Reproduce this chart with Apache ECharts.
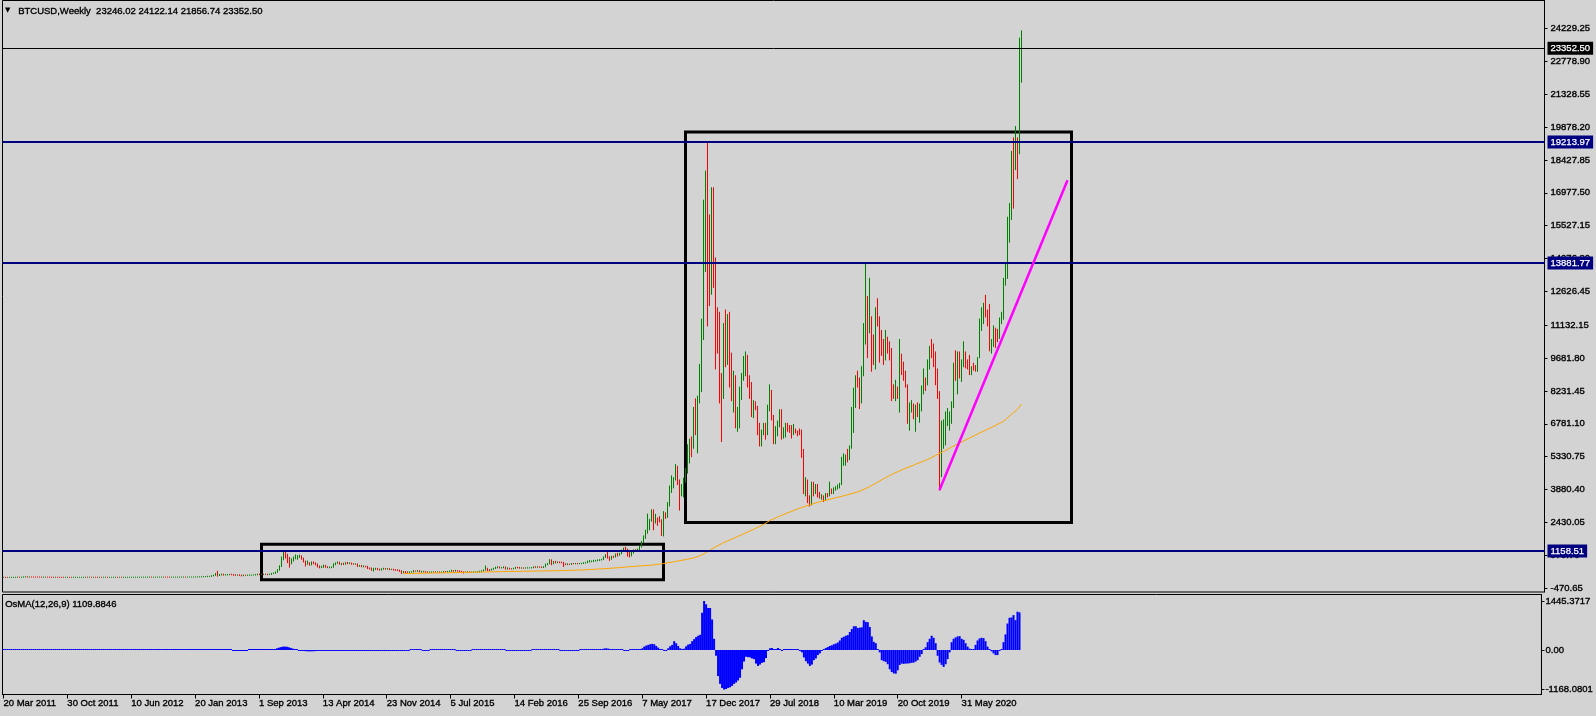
<!DOCTYPE html>
<html><head><meta charset="utf-8">
<script src="https://cdn.jsdelivr.net/npm/echarts@6/dist/echarts.min.js"></script>
<style>html,body{margin:0;padding:0;background:#d3d3d3;}#c{width:1596px;height:716px;}</style>
</head><body><div id="c"></div>
<script>
// ---------- DATA (weekly BTCUSD bars, index 0 = week of 20 Mar 2011) ----------
const opens = [
0.8,0.9,0.8,0.7,1.0,1.6,3.0,3.4,6.9,6.6,8.4,18.5,23,15,17,15.4,14.4,14,13.7,13.5,9.8,10.5,11,8.8,8.2,6.6,5.2,5.3,5.0,4.3,4.0,3.2,3.2,3.3,3.0,2.2,2.5,2.9,3.0,3.2,3.9,
4.7,6.8,6.3,6.3,5.6,5.9,5.6,4.4,4.9,4.8,4.9,5.3,4.7,4.9,4.9,4.9,5.1,5.0,5.1,5.0,5.1,5.1,5.3,5.5,5.9,6.5,6.7,6.7,7.2,8.6,8.9,10.9,11.4,12.0,10.1,10.2,11.0,11.8,12.3,12.3,12.5,11.9,11.8,10.8,10.8,10.9,11.2,12.3,12.6,13.4,13.5,13.4,13.5,
13.5,14.1,15.7,17.5,20.4,23.6,27.5,29.9,34.5,46.9,47,70,93,162,90,118,137,112,115,122,129,122,100,99,107,90,76,98,92,94,104,104,108,122,139,125,135,131,134,130,139,173,185,230,330,500,800,1000,880,850,620,740,
860,870,900,920,820,700,600,610,560,640,620,565,480,450,455,500,460,440,445,450,570,625,650,590,595,590,635,620,625,595,590,592,500,510,480,485,475,400,390,330,375,385,355,325,365,385,370,375,350,355,330,317,
315,270,210,250,225,220,235,240,275,272,285,245,250,255,236,222,230,235,240,235,240,225,232,250,245,258,270,292,275,290,282,265,231,228,229,240,231,233,238,240,247,268,285,325,380,330,325,360,395,435,440,425,
430,450,382,390,375,372,400,437,430,410,414,412,416,420,421,430,458,448,460,455,440,470,570,600,750,640,680,650,665,655,652,590,570,580,576,608,606,610,605,610,615,640,655,700,705,712,730,735,765,770,790,890,
1000,900,820,920,915,1020,1000,1050,1180,1270,1230,1020,970,1080,1200,1190,1240,1350,1560,1780,2050,2200,2520,2950,2500,2580,2500,2480,1920,2750,2740,3200,4000,4100,4330,4600,4200,3700,3780,4350,4750,5600,6000,5750,7400,6350,7800,9300,11400,15000,17800,13800,
12700,16500,13800,11500,11100,8200,8100,11000,9600,11500,9500,8200,8500,6850,6900,8300,8900,9300,9650,8600,8100,7350,7700,7500,6450,6150,6380,6750,6350,7400,8200,7000,6300,6400,6700,7300,6200,6500,6700,6620,6550,6300,6500,6450,6400,6350,5600,4000,4100,3550,3250,3900,3800,
4000,3600,3530,3560,3450,3650,3600,3850,3800,3920,3980,4000,4100,5050,5150,5300,5200,5750,7250,8100,8700,8600,8000,8900,10800,11900,11200,11400,10600,9500,11800,11400,10300,10100,9700,10400,10300,10000,8200,8100,8300,8200,9250,9200,8800,8500,7300,7400,7500,7100,7500,7300,
7400,8200,8700,8600,9400,10100,9900,9650,8600,8000,5400,5800,5900,6880,6910,7100,7550,8900,8700,9700,9200,9450,9650,9350,9300,9000,9250,9230,9180,9700,11100,11700,11900,11650,11500,10250,10300,10900,10700,10600,11300,11500,13000,13750,15500,16000,18700,18200,19150,18800,23246.02
];
const highs = [
1.0,0.9,0.8,1.1,1.8,3.5,4.0,8.0,8.5,9.0,19,31,24,18,17,16,15,14.5,14,13.6,11,12,11.2,9,8.5,7,5.8,5.5,5.1,4.4,4.1,3.6,3.7,3.5,3.1,2.8,3.1,3.2,3.4,4.2,4.9,
7.2,7.1,6.9,6.5,6.2,6.1,5.8,5.1,5.1,5.0,5.4,5.4,5.0,5.1,5.1,5.2,5.3,5.2,5.2,5.2,5.2,5.4,5.6,6.0,6.6,6.9,6.8,7.5,8.9,9.2,11.0,11.9,12.3,12.5,10.6,11.2,12.0,12.5,12.6,12.9,12.6,12.0,11.9,11.0,11.0,11.4,12.5,12.9,13.6,13.8,13.7,13.6,13.8,
14.5,16,18,21,24.5,28.5,31,35,48,48.5,75,95,170,266,125,145,140,121,123,131,135,125,111,110,113,100,100,99,99,106,105,110,125,140,143,137,137,135,135,142,175,195,240,340,510,900,1120,1150,1020,880,820,900,
990,960,980,950,850,720,720,650,680,680,640,590,500,490,540,530,470,460,460,600,640,680,670,610,620,650,660,640,630,605,600,595,520,525,500,490,485,420,410,400,400,395,365,380,400,390,390,385,360,360,340,335,
320,290,260,260,240,245,250,300,280,300,295,270,265,262,240,238,242,245,244,245,242,238,255,258,262,275,315,300,312,298,285,268,240,235,245,244,236,240,242,250,272,290,330,500,400,340,365,400,450,465,460,435,
465,455,420,400,380,405,440,445,440,420,418,420,425,425,432,462,468,465,465,458,475,580,610,780,770,700,705,680,680,670,660,600,595,585,612,612,615,612,612,620,645,660,720,740,720,750,750,770,780,795,900,1000,
1150,910,930,935,1030,1060,1060,1200,1290,1330,1250,1100,1100,1210,1220,1250,1360,1580,1830,2080,2790,2560,2980,2980,2780,2620,2680,2540,2900,2850,3300,4030,4480,4400,4980,4900,4300,4100,4380,4800,5850,6100,6200,7500,7880,8000,9400,11400,16650,17930,19213.97,16000,
17200,17200,14100,11900,11700,9000,11200,11800,11600,11700,9900,9100,8900,7500,8400,9000,9750,9950,9800,8900,8600,7800,7750,7550,6800,6500,6800,6800,7600,8500,8250,7150,6650,6900,7400,7400,6600,6800,6800,6700,6700,6750,6550,6460,6550,6500,5650,4400,4300,3600,4200,4200,4100,
4100,3750,3650,3600,3700,3700,4200,3900,3950,4000,4080,4150,5300,5450,5400,5650,5800,7500,8350,8900,9100,8800,9300,11200,13880,12400,13200,11500,10700,11900,12300,11500,10900,10500,10900,10600,10400,10100,8500,8700,8400,10500,9850,9500,9100,8500,7700,7800,7650,7600,7700,7650,
8450,9200,8800,9600,10200,10500,10300,9950,9200,8200,6900,6950,7300,7450,7300,7750,9450,10000,9950,9950,9600,10400,9950,9600,9800,9300,9450,9350,9700,11400,11900,12100,12450,11800,12050,10500,11100,11000,10950,11450,11700,13200,13900,15900,16500,18800,19400,19900,19400,23800,24122.14
];
const lows = [
0.75,0.75,0.65,0.7,0.95,1.5,2.9,3.3,5.9,6.4,8.2,17,10,13,14.5,13.9,13.8,13.2,13.3,9.5,9.2,10.1,8.5,7.9,6.4,4.8,4.7,4.6,4.1,3.8,2.2,2.6,3.0,2.8,2.0,2.1,2.4,2.8,2.9,3.1,3.8,
4.5,6.0,5.9,5.3,5.3,5.4,4.2,4.2,4.6,4.7,4.8,4.6,4.6,4.8,4.8,4.8,4.9,4.9,4.9,4.9,5.0,5.0,5.2,5.4,5.8,6.3,6.4,6.6,7.0,8.0,8.6,10.5,11.0,7.8,9.8,10.0,10.8,11.5,12.0,12.0,11.6,11.4,10.5,10.4,10.6,10.7,11.1,12.2,12.5,13.1,13.1,13.2,13.2,
13.2,13.8,15.5,17.3,20,23,26.5,29,33,40,46,68,90,55,85,105,100,105,110,115,115,95,88,95,85,65,75,90,88,90,98,100,105,118,118,120,125,130,120,127,135,170,180,225,320,480,780,850,650,450,600,720,
820,800,880,800,680,500,580,540,550,600,550,460,420,430,440,450,430,420,430,445,560,620,580,560,570,585,600,610,580,580,575,480,490,470,465,465,390,370,310,280,350,340,320,320,360,360,360,340,345,320,310,305,
265,170,205,215,210,215,232,235,265,268,240,240,242,232,218,218,225,232,233,232,222,222,228,242,242,255,265,265,270,278,260,220,195,222,225,228,228,230,233,236,245,262,282,320,300,300,318,355,390,420,415,415,
425,365,370,368,365,370,395,420,405,405,405,408,412,414,418,428,440,445,448,435,438,465,560,600,560,600,640,645,650,645,480,560,565,570,572,600,602,598,602,605,612,635,652,680,690,700,725,728,745,765,785,880,
850,750,800,880,900,940,980,1040,1150,1200,940,900,950,1070,1150,1160,1230,1340,1540,1720,1950,2100,2480,2100,2400,2300,2450,1850,1830,2600,2650,3150,3750,3950,4300,4100,2970,3600,3550,4200,4600,5050,5330,5700,6300,5500,7700,8200,10500,13500,11100,12000,
12500,12800,9200,9900,7700,6000,7900,9300,9400,8400,7800,7300,6600,6450,6600,7850,8700,8900,8400,7900,7100,7050,7400,6300,5800,5800,6300,6100,6300,7350,6950,5900,5900,6250,6650,6100,6150,6200,6450,6400,6150,6300,6380,6250,6300,5300,3700,3600,3300,3150,3200,3600,3700,
3550,3500,3450,3350,3400,3550,3600,3700,3700,3850,3900,3950,4100,4950,4950,5100,5200,5700,6400,7500,8400,7450,7700,8900,10300,9700,10800,9100,9400,9200,11100,9500,9800,9400,9600,9900,9600,7800,7900,7800,7900,7300,8950,8700,8400,6800,6500,7300,7000,6450,7100,6850,
7350,8100,8250,8500,9200,9700,9300,8500,7900,3850,4450,5700,5850,6700,6500,6800,7500,8700,8100,8800,8650,9300,9250,9200,8950,8950,9150,9100,9100,9700,10900,11200,11500,11100,10000,9900,10200,10150,10400,10550,11200,11400,12900,13200,14800,15800,16300,18000,17600,18700,21856.74
];
const closes = [
0.9,0.8,0.7,1.0,1.6,3.0,3.4,6.9,6.6,8.4,18.5,23,15,17,15.4,14.4,14,13.7,13.5,9.8,10.5,11,8.8,8.2,6.6,5.2,5.3,5.0,4.3,4.0,3.2,3.2,3.3,3.0,2.2,2.5,2.9,3.0,3.2,3.9,4.7,
6.8,6.3,6.3,5.6,5.9,5.6,4.4,4.9,4.8,4.9,5.3,4.7,4.9,4.9,4.9,5.1,5.0,5.1,5.0,5.1,5.1,5.3,5.5,5.9,6.5,6.7,6.7,7.2,8.6,8.9,10.9,11.4,12.0,10.1,10.2,11.0,11.8,12.3,12.3,12.5,11.9,11.8,10.8,10.8,10.9,11.2,12.3,12.6,13.4,13.5,13.4,13.5,13.5,
14.1,15.7,17.5,20.4,23.6,27.5,29.9,34.5,46.9,47,70,93,162,90,118,137,112,115,122,129,122,100,99,107,90,76,98,92,94,104,104,108,122,139,125,135,131,134,130,139,173,185,230,330,500,800,1000,880,850,620,740,860,
870,900,920,820,700,600,610,560,640,620,565,480,450,455,500,460,440,445,450,570,625,650,590,595,590,635,620,625,595,590,592,500,510,480,485,475,400,390,330,375,385,355,325,365,385,370,375,350,355,330,317,315,
270,210,250,225,220,235,240,275,272,285,245,250,255,236,222,230,235,240,235,240,225,232,250,245,258,270,292,275,290,282,265,231,228,229,240,231,233,238,240,247,268,285,325,380,330,325,360,395,435,440,425,430,
450,382,390,375,372,400,437,430,410,414,412,416,420,421,430,458,448,460,455,440,470,570,600,750,640,680,650,665,655,652,590,570,580,576,608,606,610,605,610,615,640,655,700,705,712,730,735,765,770,790,890,1000,
900,820,920,915,1020,1000,1050,1180,1270,1230,1020,970,1080,1200,1190,1240,1350,1560,1780,2050,2200,2520,2950,2500,2580,2500,2480,1920,2750,2740,3200,4000,4100,4330,4600,4200,3700,3780,4350,4750,5600,6000,5750,7400,6350,7800,9300,11400,15000,17800,13800,12700,
16500,13800,11500,11100,8200,8100,11000,9600,11500,9500,8200,8500,6900,6900,8300,8900,9300,9650,8600,8100,7350,7700,7500,6450,6150,6380,6750,6350,7400,8200,7000,6300,6400,6700,7300,6200,6500,6700,6600,6550,6300,6500,6450,6400,6350,5600,4000,4100,3550,3250,3900,3800,4000,
3600,3550,3560,3450,3650,3600,3850,3800,3920,3980,4000,4100,5050,5150,5300,5200,5750,7250,8100,8700,8600,8000,8900,10800,11900,11200,11400,10600,9500,11800,11400,10300,10100,9700,10400,10300,10000,8200,8100,8300,8200,9200,9200,8800,8500,7300,7400,7500,7100,7500,7300,7400,
8200,8700,8600,9400,10100,9900,9650,8600,8000,5400,5800,5900,6900,6910,7100,7550,8900,8700,9700,9200,9450,9650,9350,9300,9000,9250,9230,9180,9700,11100,11700,11900,11650,11500,10250,10300,10900,10700,10600,11300,11500,13000,13750,15500,16000,18700,18200,19150,18800,23246.02,23352.50
];
// 200-period moving average: [bar index, value]
const maPoints = [[200,167],[210,185],[220,200],[230,220],[240,238],[250,255],[260,270],[270,285],[280,300],[290,330],[298,370],[305,410],[313,470],[318,505],[324,540],[330,610],[336,700],[342,800],[346,880],[349,980],[352,1130],[355,1300],[360,1530],[365,1720],[370,1920],[375,2120],[380,2330],[383,2500],[388,2700],[393,2880],[398,3050],[403,3200],[409,3360],[415,3490],[421,3620],[428,3800],[433,4000],[437,4200],[441,4400],[445,4580],[450,4780],[456,4990],[462,5200],[466,5380],[470,5560],[474,5750],[478,5930],[483,6150],[488,6370],[494,6620],[500,6890],[504,7200],[507,7420],[509,7650]];
// OsMA(12,26,9) histogram, one value per bar
const osma = [
0,0,0,0,0,0,0,0,0,0, 0,0,0,0,0,0,0,0,0,0, 0,0,0,0,0,0,0,0,0,0, 0,0,0,0,0,0,0,0,0,0, 0,0,0,0,0,0,0,0,0,0,
0,0,0,0,0,0,0,0,0,0, 0,0,0,0,0,0,0,0,0,0, 0,0,0,0,0,0,0,0,0,0, 0,0,0,0,0,0,0,0,0,0, 0,0,0,0,0,0,0,0,0,0,
0,0,0,0,0,0,0,0,0,0, 0,0,0,0,0,
-5,-10,-15,-15,-12,-10,-5,-3,
0,0,2,4,5,4,3,2,2,3,5,8,
15,30,50,70,85,100,100,95,80,60,40,25,10,
-5,-15,-25,-32,-38,-40,-40,-38,-35,-30,-28,-25,-22,-20,-18,-15,-12,-10,-8,
-5,-3,-2,-3,-5,-6,-6,-5,-6,-8,-10,-10,-9,-8,-8,-10,-12,-12,-10,-8,-6,-5,-4,-4,-5,-6,-6,-6,-8,-8,-10,-12,-10,-8,
-6,-4,-2,0,1,2,2,1,0,-1,-2,-2,-1,0,0,0,0,0,1,2,3,4,4,3,2,0,-2,-4,-5,-5,-4,-3,-2,-1,0,2,4,8,12,18,
28,30,26,22,22,25,24,20,14,8,0,-6,-8,-8,-6,-4,-2,-1,-2,-3,
-4,-4,-3,-2,0,2,3,3,2,2,6,18,30,28,20,12,6,0,-6,-10,-14,-16,-16,-14,-10,-6,-3,-1,0,1,
2,4,8,10,12,14,16,18,22,30,45,50,40,30,20,12,8,5,3,0,-2,-3,-2,
0,5,5,10,15,
30,50,100,130,150,170,180,170,120,70,
20,0,-20,-10,50,110,150,260,200,120,
50,20,40,110,160,180,260,320,380,420,
450,1100,1445,1350,1240,1240,900,330,-170,-770,
-1000,-1120,-1168,-1150,-1120,-1100,-1060,-1000,-960,-900,
-820,-570,-340,-200,-210,-220,-250,-270,-400,-470,
-430,-380,-360,-240,-20,50,60,30,30,60,
0,-10,30,20,20,20,20,15,10,5,
-30,-70,-220,-330,-400,-470,-430,-300,-250,-150,
-100,-30,10,60,90,120,140,170,190,220,
280,360,390,420,440,530,620,700,700,650,
660,670,880,830,820,680,400,240,200,30,
-70,-300,-330,-350,-420,-570,-650,-690,-700,-600,
-440,-400,-410,-400,-400,-390,-380,-370,-340,-300,
-200,-120,0,80,230,330,420,360,200,-170,
-370,-440,-500,-420,-270,-70,230,330,370,400,
410,330,300,200,100,40,30,20,150,280,
340,360,350,260,100,20,-40,-100,-150,-150,
-20,30,230,460,780,950,960,1030,880,1130,
1110
];
const xTickLabels = ['20 Mar 2011','30 Oct 2011','10 Jun 2012','20 Jan 2013','1 Sep 2013','13 Apr 2014','23 Nov 2014','5 Jul 2015','14 Feb 2016','25 Sep 2016','7 May 2017','17 Dec 2017','29 Jul 2018','10 Mar 2019','20 Oct 2019','31 May 2020'];
const priceTicks = [-470.65,979.70,2430.05,3880.40,5330.75,6781.10,8231.45,9681.80,11132.15,12626.45,14076.80,15527.15,16977.50,18427.85,19878.20,21328.55,22778.90,24229.25];
const osmaTicks = [-1168.0801,0,1445.3717];
const osmaTickLabels = ['-1168.0801','0.00','1445.3717'];
const levels = [
  {value:23352.50, color:'#000000', width:1},
  {value:19213.97, color:'#000080', width:2},
  {value:13881.77, color:'#000080', width:2},
  {value:1158.51, color:'#000080', width:2}
];
const boxes = [[[341,19660],[534,2421]],[[129,1458],[330,-100]]];
const trendLine = [[468,3855],[532,17526]];
const symbolName = 'BTCUSD,Weekly';
const lastBar = ['23246.02','24122.14','21856.74','23352.50'];
const osmaName = 'OsMA(12,26,9)';
const osmaCurrent = '1109.8846';
const categoryCount = 771;

// ---------- CHART ----------
const FONT = '"Liberation Sans", Arial, sans-serif';
const FS = 9.5;
const TB = 0.35; // slight stroke to mimic the heavier terminal font
const categories = Array.from({length: categoryCount}, (_, i) => String(i));
const candles = opens.map((o, i) => [o, closes[i], lows[i], highs[i]]);
const showTick = (idx) => idx % 32 === 0 && idx / 32 < xTickLabels.length;
const txt = (extra) => Object.assign({color: '#000', fontFamily: FONT, fontSize: FS, textBorderColor: '#000', textBorderWidth: TB}, extra);

const chart = echarts.init(document.getElementById('c'), null, {renderer: 'canvas'});
chart.setOption({
  animation: false,
  backgroundColor: '#d3d3d3',
  grid: [
    {left: 2.5, right: 51.5, top: 0.5, height: 591.5, show: true, borderColor: '#000', borderWidth: 1, backgroundColor: 'transparent'},
    {left: 2.5, right: 51.5, top: 594.5, height: 100, show: true, borderColor: '#000', borderWidth: 1, backgroundColor: 'transparent'}
  ],
  xAxis: [
    {type: 'category', gridIndex: 0, data: categories, boundaryGap: true,
     axisLine: {show: false}, axisTick: {show: false}, axisLabel: {show: false}, splitLine: {show: false}},
    {type: 'category', gridIndex: 1, data: categories, boundaryGap: true,
     axisLine: {show: true, onZero: false, lineStyle: {color: '#000', width: 1}},
     axisTick: {show: true, alignWithLabel: true, interval: showTick, length: 4, lineStyle: {color: '#000'}},
     axisLabel: txt({show: true, interval: showTick, formatter: (v, idx) => xTickLabels[idx / 32], align: 'left', margin: 4}),
     splitLine: {show: false}}
  ],
  yAxis: [
    {type: 'value', gridIndex: 0, position: 'right', min: -646, max: 25465, scale: true,
     axisLine: {show: true, lineStyle: {color: '#000'}},
     axisTick: {show: true, length: 3, customValues: priceTicks, lineStyle: {color: '#000'}},
     axisLabel: txt({show: true, customValues: priceTicks, formatter: v => Number(v).toFixed(2), margin: 6}),
     splitLine: {show: false}},
    {type: 'value', gridIndex: 1, position: 'right', min: -1313, max: 1637, scale: true,
     axisLine: {show: true, lineStyle: {color: '#000'}},
     axisTick: {show: true, length: 3, customValues: osmaTicks, lineStyle: {color: '#000'}},
     axisLabel: txt({show: true, customValues: osmaTicks,
       formatter: v => osmaTickLabels[osmaTicks.findIndex(t => Math.abs(t - v) < 1e-6)] ?? '', margin: 4}),
     splitLine: {show: false}}
  ],
  series: [
    {type: 'candlestick', xAxisIndex: 0, yAxisIndex: 0, data: candles, barWidth: 1, z: 2, silent: true,
     itemStyle: {color: '#008000', color0: '#ff0000', borderColor: '#008000', borderColor0: '#ff0000', borderColorDoji: '#008000', borderWidth: 1, borderCap: 'square'}},
    {type: 'line', xAxisIndex: 0, yAxisIndex: 0, data: maPoints, showSymbol: false, symbol: 'none', z: 3, silent: true,
     lineStyle: {color: '#ffa500', width: 1},
     markArea: {silent: true, label: {show: false},
       itemStyle: {color: 'rgba(0,0,0,0)', borderColor: '#000', borderWidth: 3},
       data: boxes.map(b => [{coord: b[0]}, {coord: b[1]}])},
     markLine: {silent: true, symbol: ['none', 'none'], precision: 2,
       data: [
         ...levels.map(l => ({yAxis: l.value,
           lineStyle: {color: l.color, width: l.width, type: 'solid'},
           label: {show: true, position: 'end', distance: 3, formatter: l.value.toFixed(2),
             backgroundColor: l.color, color: '#fff', padding: [2, 3, 1, 3],
             fontFamily: FONT, fontSize: FS, textBorderColor: '#fff', textBorderWidth: 0.25}})),
         [{coord: trendLine[0], lineStyle: {color: '#ff00ff', width: 2.5, type: 'solid'}, label: {show: false}},
          {coord: trendLine[1]}]
       ]}},
    {type: 'bar', xAxisIndex: 1, yAxisIndex: 1, data: osma, barWidth: 2, barMinHeight: 1, silent: true,
     itemStyle: {color: '#0000ff'}}
  ],
  graphic: [
    {type: 'text', left: 5, top: 7, style: {text: '▼', font: '7px "DejaVu Sans"', fill: '#000'}},
    {type: 'text', left: 18, top: 6, style: {text: symbolName + '  ' + lastBar.join(' '), font: FS + 'px ' + FONT, fill: '#000', stroke: '#000', lineWidth: TB}},
    {type: 'text', left: 5, top: 599, style: {text: osmaName + ' ' + osmaCurrent, font: FS + 'px ' + FONT, fill: '#000', stroke: '#000', lineWidth: TB}}
  ]
});
</script>
</body></html>
